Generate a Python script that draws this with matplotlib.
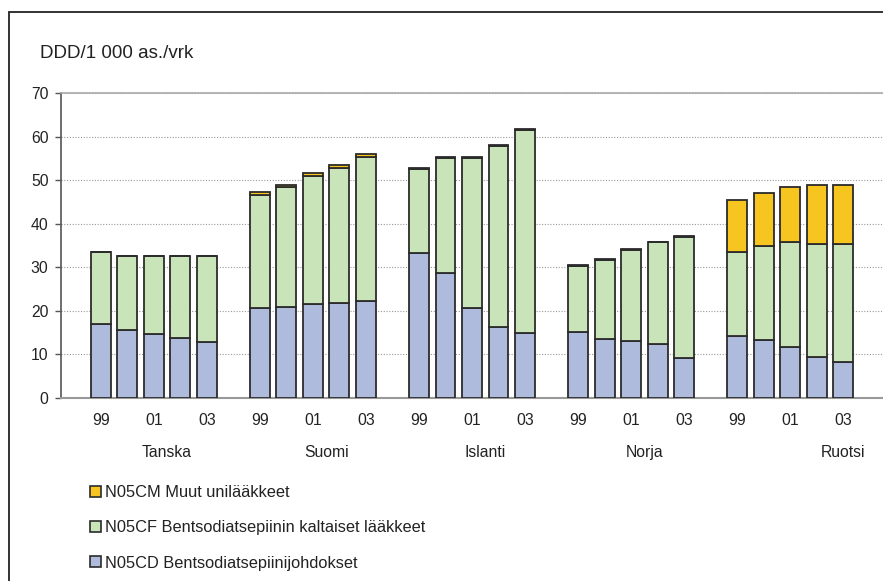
"""
Unilääkkeiden käyttö Pohjoismaissa, pinottu pylväskaavio
"""
import matplotlib
matplotlib.use('Agg')
import matplotlib.pyplot as plt
from matplotlib.patches import Rectangle, Patch
from matplotlib.transforms import blended_transform_factory
import numpy as np

plt.rcParams['font.family'] = ['Liberation Sans', 'DejaVu Sans']

# maat ja vuodet
countries = ['Tanska', 'Suomi', 'Islanti', 'Norja', 'Ruotsi']
years = ['99', '00', '01', '02', '03']
year_labels = ['99', '', '01', '', '03']

# N05CD Bentsodiatsepiinijohdokset
n05cd = [17.0, 15.6, 14.7, 13.8, 12.8,
         20.6, 20.9, 21.5, 21.8, 22.2,
         33.3, 28.8, 20.6, 16.2, 14.9,
         15.2, 13.6, 13.0, 12.3, 9.2,
         14.3, 13.3, 11.7, 9.4, 8.3]
# N05CF Bentsodiatsepiinin kaltaiset lääkkeet
n05cf = [16.4, 16.9, 17.8, 18.7, 19.9,
         26.1, 27.5, 29.4, 31.0, 33.1,
         19.3, 26.3, 34.5, 41.7, 46.7,
         15.2, 18.1, 21.0, 23.5, 27.8,
         19.2, 21.7, 24.1, 26.0, 27.1]
# N05CM Muut unilääkkeet
n05cm = [0.0, 0.0, 0.0, 0.0, 0.0,
         0.5, 0.6, 0.7, 0.6, 0.6,
         0.2, 0.2, 0.2, 0.2, 0.2,
         0.1, 0.1, 0.1, 0.1, 0.1,
         12.0, 12.1, 12.7, 13.6, 13.6]

c_cd = '#AFBBDD'
c_cf = '#C9E4B8'
c_cm = '#F7C520'
edge = '#2b2b2b'

# pylväiden paikat: viisi vuotta + tyhjä väli maiden välissä
n_years = len(years)
x = np.array([g * (n_years + 1) + i for g in range(len(countries)) for i in range(n_years)])
cd = np.array(n05cd)
cf = np.array(n05cf)
cm = np.array(n05cm)

fig = plt.figure(figsize=(8.83, 5.81), dpi=100)
ax = fig.add_axes([61 / 883, 1 - 398 / 581, 1 - 61 / 883, 305 / 581])

w = 0.75
ax.bar(x, cd, w, color=c_cd, edgecolor=edge, linewidth=1.3, zorder=3)
ax.bar(x, cf, w, bottom=cd, color=c_cf, edgecolor=edge, linewidth=1.3, zorder=3)
ax.bar(x, cm, w, bottom=cd + cf, color=c_cm, edgecolor=edge, linewidth=1.3, zorder=3)

ax.set_xlim(-1.5, x[-1] + 1.5)
ax.set_ylim(0, 70)
ax.set_yticks(range(0, 71, 10))
ax.yaxis.grid(True, linestyle=(0, (1, 1.5)), color='#9a9a9a', linewidth=0.8, zorder=0)
ax.set_axisbelow(True)

ax.set_xticks(x)
ax.set_xticklabels(year_labels * len(countries))
ax.tick_params(axis='x', length=0, pad=11, labelsize=11.3, colors='#222222')
ax.tick_params(axis='y', direction='out', length=4, width=1, color='#555555',
               pad=5, labelsize=11.3, labelcolor='#222222')

for s in ['right']:
    ax.spines[s].set_visible(False)
ax.spines['top'].set_color('#aaaaaa')
ax.spines['top'].set_linewidth(1.2)
ax.spines['bottom'].set_color('#999999')
ax.spines['bottom'].set_linewidth(1.5)
ax.spines['left'].set_color('#555555')
ax.spines['left'].set_linewidth(1.2)

# maiden nimet
trans = blended_transform_factory(ax.transData, ax.transAxes)
name_offsets = [2.5, 2.5, 2.5, 2.5, 4.0]
for g, name in enumerate(countries):
    ax.text(g * (n_years + 1) + name_offsets[g], -0.178, name, transform=trans,
            ha='center', va='center', fontsize=11.3, color='#222222')

# y-akselin otsikko
fig.text(40 / 883, 1 - 53 / 581, 'DDD/1 000 as./vrk', ha='left', va='center',
         fontsize=13.5, color='#222222')

# selite
handles = [Patch(facecolor=c_cm, edgecolor=edge, linewidth=1.2),
           Patch(facecolor=c_cf, edgecolor=edge, linewidth=1.2),
           Patch(facecolor=c_cd, edgecolor=edge, linewidth=1.2)]
labels = ['N05CM Muut unilääkkeet',
          'N05CF Bentsodiatsepiinin kaltaiset lääkkeet',
          'N05CD Bentsodiatsepiinijohdokset']
fig.legend(handles, labels, loc='upper left', bbox_to_anchor=(90 / 883, 1 - 485 / 581),
           frameon=False, fontsize=11.8, handlelength=0.65, handleheight=0.65,
           handletextpad=0.25, labelspacing=1.24, borderpad=0, borderaxespad=0,
           labelcolor='#222222')

# kehys
fig.patches.append(Rectangle((9 / 883, -0.1), 1.2, 1 - 12 / 581 + 0.1,
                             transform=fig.transFigure, fill=False,
                             edgecolor='#222222', linewidth=1.3))

plt.savefig('out.png', dpi=100)
plt.close()
